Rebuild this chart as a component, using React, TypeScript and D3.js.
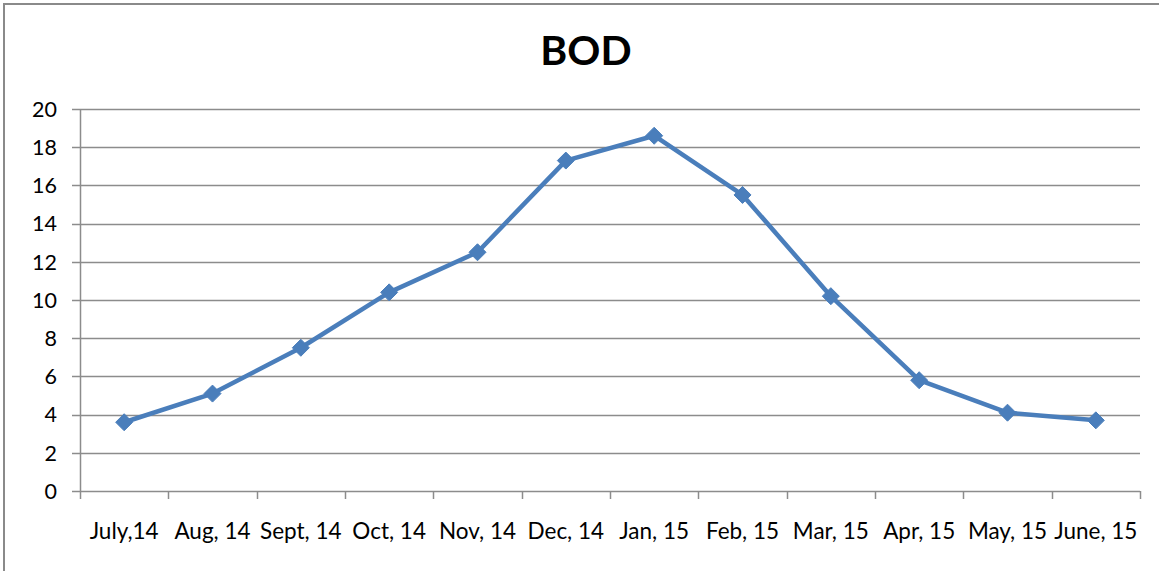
import React from "react";
import * as d3 from "d3";

const categories = ["July,14", "Aug, 14", "Sept, 14", "Oct, 14", "Nov, 14", "Dec, 14", "Jan, 15", "Feb, 15", "Mar, 15", "Apr, 15", "May, 15", "June, 15"];
const bodValues = [3.6, 5.1, 7.5, 10.4, 12.5, 17.3, 18.6, 15.5, 10.2, 5.8, 4.1, 3.7];
const yTicks = [0, 2, 4, 6, 8, 10, 12, 14, 16, 18, 20];
const title = "BOD";

const W = 1159, H = 571;
const left = 80, right = 1140, top = 109, bottom = 491;
const font = "Lato, 'Open Sans', sans-serif";
const lineColor = "#4a7ebb";
const gridColor = "#8c8c8c";

export default function App() {
  const x = d3.scaleBand<string>().domain(categories).range([left, right]).paddingInner(0).paddingOuter(0);
  const y = d3.scaleLinear().domain([0, 20]).range([bottom, top]);
  const cx = (c: string) => (x(c) as number) + x.bandwidth() / 2;
  const line = d3.line<number>().x((_, i) => cx(categories[i])).y((d) => y(d));
  const boundaries = categories.map((c) => x(c) as number).concat([right]);
  const r = 8.5;
  return (
    <svg width={W} height={H} style={{ position: "absolute", left: 0, top: 0, background: "#fff" }}>
      <rect x={4} y={4} width={W + 20} height={H + 20} fill="#fff" stroke="#8a8a8a" strokeWidth={2} />
      <text x={586} y={65} textAnchor="middle" fontFamily={font} fontWeight="bold" fontSize={41} fill="#000">{title}</text>
      {yTicks.map((t) => (
        <g key={t}>
          <line x1={72} x2={right} y1={Math.round(y(t)) + 0.5} y2={Math.round(y(t)) + 0.5} stroke={gridColor} strokeWidth={1.5} />
          <text x={57} y={y(t)} dy="0.36em" textAnchor="end" fontFamily={font} fontSize={21.5} fill="#000">{t}</text>
        </g>
      ))}
      <line x1={left + 0.5} x2={left + 0.5} y1={top} y2={bottom} stroke={gridColor} strokeWidth={1.5} />
      {boundaries.map((b, i) => (
        <line key={i} x1={Math.round(b) + 0.5} x2={Math.round(b) + 0.5} y1={bottom} y2={bottom + 8} stroke={gridColor} strokeWidth={1.5} />
      ))}
      {categories.map((c) => (
        <text key={c} x={cx(c)} y={539} textAnchor="middle" fontFamily={font} fontSize={22.5} fill="#000">{c}</text>
      ))}
      <path d={line(bodValues) as string} fill="none" stroke={lineColor} strokeWidth={4.5} strokeLinejoin="round" />
      {bodValues.map((v, i) => {
        const px = cx(categories[i]);
        const py = y(v);
        return (
          <path key={i} d={`M${px},${py - r}L${px + r},${py}L${px},${py + r}L${px - r},${py}Z`} fill={lineColor} stroke={lineColor} strokeWidth={1} />
        );
      })}
    </svg>
  );
}
